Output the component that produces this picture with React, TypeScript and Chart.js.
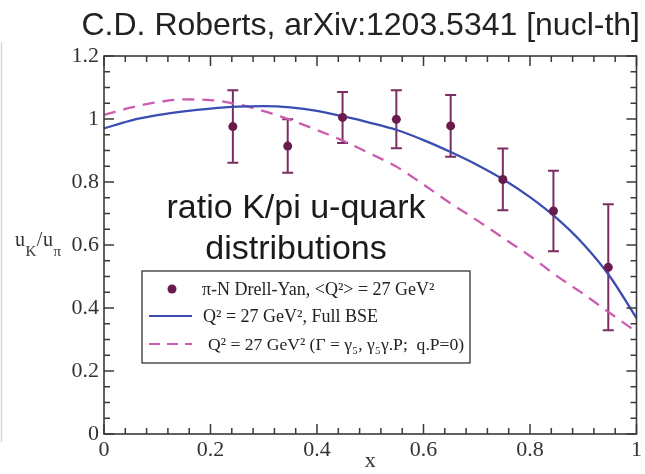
import React, { useEffect, useRef } from 'react';
import { Chart, registerables } from 'chart.js';

Chart.register(...registerables);

// ---- data ----
const dataX = [0.242, 0.345, 0.448, 0.549, 0.651, 0.749, 0.844, 0.947];
const dataY = [0.976, 0.914, 1.005, 0.999, 0.978, 0.808, 0.708, 0.529];
const dataErr = [0.115, 0.085, 0.081, 0.092, 0.098, 0.098, 0.128, 0.2];

const curveX = [0, 0.05, 0.1, 0.15, 0.2, 0.25, 0.3, 0.35, 0.4, 0.45, 0.5, 0.55, 0.6, 0.65, 0.7, 0.75, 0.8, 0.85, 0.9, 0.95, 1.0];
const fullBSE = [0.970, 0.995, 1.012, 1.024, 1.033, 1.039, 1.041, 1.037, 1.026, 1.008, 0.988, 0.965, 0.933, 0.896, 0.855, 0.808, 0.752, 0.685, 0.603, 0.500, 0.368];
const contactBSE = [1.013, 1.036, 1.053, 1.062, 1.060, 1.047, 1.025, 0.997, 0.965, 0.930, 0.890, 0.848, 0.792, 0.733, 0.679, 0.622, 0.565, 0.502, 0.445, 0.384, 0.324];

const legendLabels = [
  'π-N Drell-Yan, <Q²> = 27 GeV²',
  'Q² = 27 GeV², Full BSE',
  'Q² = 27 GeV² (Γ = γ₅, γ₅γ.P;  q.P=0)',
];
const titleText = 'C.D. Roberts, arXiv:1203.5341 [nucl-th]';
const noteLines = ['ratio K/pi u-quark', 'distributions'];
const xTitle = 'x';

const POINT_COLOR = '#6a1b4d';
const ERR_COLOR = '#7b2d62';
const BLUE = '#3a4db0';
const PINK = '#cc5cb0';
const FRAME = '#3a3a3a';
const SERIF = "'Liberation Serif', 'Times New Roman', serif";
const SANS = "'Liberation Sans', Arial, sans-serif";

const fmt = (v: any) => Number(v).toFixed(1).replace(/\.0$/, '');

const decorPlugin = {
  id: 'decor',
  beforeDatasetsDraw(chart: any) {
    const { ctx } = chart;
    const xs = chart.scales.x;
    const ys = chart.scales.y;
    ctx.save();
    ctx.strokeStyle = ERR_COLOR;
    ctx.lineWidth = 2;
    for (let i = 0; i < dataX.length; i++) {
      const px = xs.getPixelForValue(dataX[i]);
      const top = ys.getPixelForValue(dataY[i] + dataErr[i]);
      const bot = ys.getPixelForValue(dataY[i] - dataErr[i]);
      ctx.beginPath();
      ctx.moveTo(px, top);
      ctx.lineTo(px, bot);
      ctx.moveTo(px - 5.5, top);
      ctx.lineTo(px + 5.5, top);
      ctx.moveTo(px - 5.5, bot);
      ctx.lineTo(px + 5.5, bot);
      ctx.stroke();
    }
    ctx.restore();
  },
  afterDraw(chart: any) {
    const { ctx, chartArea: a } = chart;
    const xs = chart.scales.x;
    const ys = chart.scales.y;
    ctx.save();
    // frame
    ctx.strokeStyle = FRAME;
    ctx.lineWidth = 1.6;
    ctx.strokeRect(a.left, a.top, a.right - a.left, a.bottom - a.top);
    // ticks
    ctx.lineWidth = 1.5;
    ctx.beginPath();
    for (let i = 0; i <= 25; i++) {
      const px = xs.getPixelForValue(i * 0.04);
      const len = i % 5 === 0 ? 10 : 6;
      ctx.moveTo(px, a.bottom);
      ctx.lineTo(px, a.bottom - len);
      ctx.moveTo(px, a.top);
      ctx.lineTo(px, a.top + len);
    }
    for (let i = 0; i <= 24; i++) {
      const py = ys.getPixelForValue(i * 0.05);
      const len = i % 4 === 0 ? 10 : 6;
      ctx.moveTo(a.left, py);
      ctx.lineTo(a.left + len, py);
      ctx.moveTo(a.right, py);
      ctx.lineTo(a.right - len, py);
    }
    ctx.stroke();

    // y axis title u_K/u_pi
    ctx.fillStyle = '#333';
    ctx.textBaseline = 'alphabetic';
    ctx.textAlign = 'left';
    let x = 15;
    const base = 246;
    const big = `20px ${SERIF}`;
    const small = `15px ${SERIF}`;
    const parts: [string, string, number][] = [
      ['u', big, 0],
      ['K', small, 10],
      ['/', big, 0],
      ['u', big, 0],
      ['π', small, 10],
    ];
    for (const [t, f, dy] of parts) {
      ctx.font = f;
      ctx.fillText(t, x, base + dy);
      x += ctx.measureText(t).width + 0.5;
    }

    // title
    ctx.font = `32px ${SANS}`;
    ctx.fillStyle = '#222';
    ctx.textAlign = 'right';
    ctx.fillText(titleText, 640, 35);

    // note
    ctx.font = `34px ${SANS}`;
    ctx.fillStyle = '#1a1a1a';
    ctx.textAlign = 'center';
    ctx.fillText(noteLines[0], 296, 218);
    ctx.fillText(noteLines[1], 296, 259);

    // legend
    const L = 142, T = 271, R = 470, B = 363;
    ctx.fillStyle = '#fff';
    ctx.fillRect(L, T, R - L, B - T);
    ctx.strokeStyle = '#333';
    ctx.lineWidth = 1.3;
    ctx.strokeRect(L, T, R - L, B - T);
    const rows = [289, 316, 344];
    ctx.fillStyle = POINT_COLOR;
    ctx.beginPath();
    ctx.arc(172, rows[0], 4.5, 0, Math.PI * 2);
    ctx.fill();
    ctx.strokeStyle = BLUE;
    ctx.lineWidth = 2.2;
    ctx.beginPath();
    ctx.moveTo(149, rows[1]);
    ctx.lineTo(192, rows[1]);
    ctx.stroke();
    ctx.strokeStyle = PINK;
    ctx.setLineDash([11, 7]);
    ctx.beginPath();
    ctx.moveTo(149, rows[2]);
    ctx.lineTo(192, rows[2]);
    ctx.stroke();
    ctx.setLineDash([]);
    ctx.fillStyle = '#222';
    ctx.textAlign = 'left';
    ctx.textBaseline = 'middle';
    ctx.font = `18px ${SERIF}`;
    ctx.fillText(legendLabels[0], 202, rows[0] + 1);
    ctx.fillText(legendLabels[1], 203, rows[1] + 1);
    ctx.font = `17.6px ${SERIF}`;
    ctx.fillText(legendLabels[2], 208, rows[2] + 1);

    // left edge artifact line
    ctx.strokeStyle = '#d8d8d8';
    ctx.lineWidth = 1.5;
    ctx.beginPath();
    ctx.moveTo(1.5, 42);
    ctx.lineTo(1.5, 442);
    ctx.stroke();
    ctx.restore();
  },
};

export default function App() {
  const ref = useRef<HTMLCanvasElement | null>(null);
  useEffect(() => {
    document.body.style.margin = '0';
    const canvas = ref.current;
    if (!canvas) return;
    const chart = new Chart(canvas, {
      type: 'line',
      data: {
        datasets: [
          {
            label: legendLabels[0],
            data: dataX.map((x, i) => ({ x, y: dataY[i] })),
            showLine: false,
            pointRadius: 4.5,
            pointBackgroundColor: POINT_COLOR,
            pointBorderColor: POINT_COLOR,
            pointBorderWidth: 0,
            order: 0,
          },
          {
            label: legendLabels[1],
            data: curveX.map((x, i) => ({ x, y: fullBSE[i] })),
            borderColor: BLUE,
            borderWidth: 2.3,
            pointRadius: 0,
            cubicInterpolationMode: 'monotone',
            order: 1,
          },
          {
            label: legendLabels[2],
            data: curveX.map((x, i) => ({ x, y: contactBSE[i] })),
            borderColor: PINK,
            borderWidth: 2.3,
            borderDash: [12, 8],
            pointRadius: 0,
            cubicInterpolationMode: 'monotone',
            order: 2,
          },
        ],
      },
      options: {
        animation: false,
        responsive: true,
        maintainAspectRatio: false,
        devicePixelRatio: 1,
        layout: { padding: { top: 56, right: 8, left: 0, bottom: 0 } },
        plugins: { legend: { display: false }, tooltip: { enabled: false } },
        events: [],
        scales: {
          x: {
            type: 'linear',
            min: 0,
            max: 1,
            grid: { display: false, drawTicks: false },
            border: { display: false },
            ticks: {
              stepSize: 0.2,
              padding: 3,
              color: '#333',
              font: { family: SERIF, size: 22 },
              maxRotation: 0,
              callback: fmt,
            },
            title: {
              display: true,
              text: xTitle,
              color: '#333',
              font: { family: SERIF, size: 22 },
              padding: { top: 0, bottom: 0 },
            },
            afterFit: (s: any) => {
              s.height = 40;
            },
          },
          y: {
            type: 'linear',
            min: 0,
            max: 1.2,
            grid: { display: false, drawTicks: false },
            border: { display: false },
            ticks: {
              stepSize: 0.2,
              padding: 5,
              color: '#333',
              font: { family: SERIF, size: 22 },
              callback: fmt,
            },
            afterFit: (s: any) => {
              s.width = 104;
            },
          },
        },
      },
      plugins: [decorPlugin],
    } as any);
    return () => chart.destroy();
  }, []);
  return (
    <div style={{ position: 'absolute', left: 0, top: 0, width: 645, height: 474 }}>
      <canvas ref={ref} />
    </div>
  );
}
